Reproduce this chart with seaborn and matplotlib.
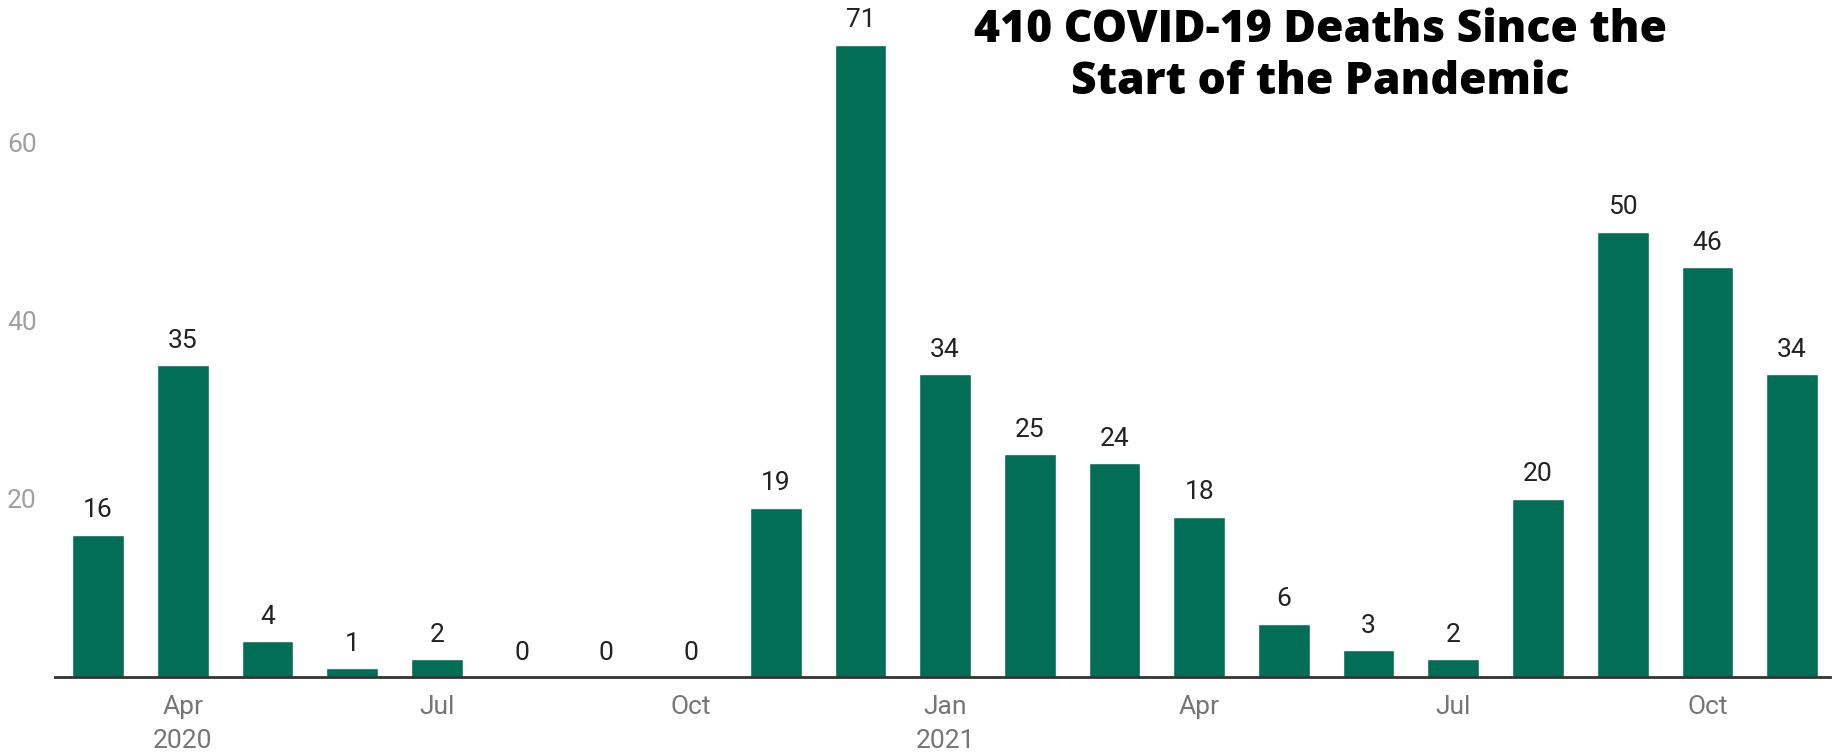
import pandas as pd
import matplotlib
matplotlib.use("Agg")
import matplotlib.pyplot as plt
import seaborn as sns

months = [
    "Mar 2020", "Apr 2020", "May 2020", "Jun 2020", "Jul 2020", "Aug 2020",
    "Sep 2020", "Oct 2020", "Nov 2020", "Dec 2020", "Jan 2021", "Feb 2021",
    "Mar 2021", "Apr 2021", "May 2021", "Jun 2021", "Jul 2021", "Aug 2021",
    "Sep 2021", "Oct 2021", "Nov 2021",
]
deaths = [16, 35, 4, 1, 2, 0, 0, 0, 19, 71, 34, 25, 24, 18, 6, 3, 2, 20, 50, 46, 34]

tick_months = ["Apr 2020", "Jul 2020", "Oct 2020", "Jan 2021", "Apr 2021", "Jul 2021", "Oct 2021"]
tick_labels = ["Apr\n2020", "Jul", "Oct", "Jan\n2021", "Apr", "Jul", "Oct"]
y_ticks = [20, 40, 60]

title = "410 COVID-19 Deaths Since the\nStart of the Pandemic"

BAR_COLOR = "#026e55"


def main():
    sns.set_style("white")
    plt.rcParams["font.family"] = ["Roboto", "DejaVu Sans"]

    df = pd.DataFrame({"month": months, "deaths": deaths})

    fig = plt.figure(figsize=(18.39, 7.54), dpi=100)
    ax = fig.add_axes([0.0299, 0.102, 0.9653, 0.898])

    sns.barplot(data=df, x="month", y="deaths", color=BAR_COLOR,
                saturation=1, width=0.61, ax=ax)

    ax.bar_label(ax.containers[0], labels=[str(v) for v in deaths],
                 padding=9, fontsize=19, color="#222222")

    ax.set_xlim(-0.51, len(months) - 0.55)
    ax.set_ylim(0, 76)

    ax.set_xticks([months.index(m) for m in tick_months])
    ax.set_xticklabels(tick_labels, fontsize=19, color="#757575", linespacing=1.5)
    ax.set_yticks(y_ticks)
    ax.set_yticklabels([str(t) for t in y_ticks], fontsize=19, color="#a0a0a0")
    ax.tick_params(axis="both", length=0)
    ax.tick_params(axis="x", pad=13)
    ax.tick_params(axis="y", pad=13)

    ax.set_xlabel("")
    ax.set_ylabel("")
    sns.despine(ax=ax, left=True)
    ax.spines["bottom"].set_color("#333333")
    ax.spines["bottom"].set_linewidth(2)
    ax.grid(False)

    fig.text(0.718, 0.925, title, ha="center", va="center",
             fontsize=32, fontweight="heavy", family=["Open Sans", "DejaVu Sans"],
             linespacing=1.2, color="#000000")

    fig.savefig("out.png", dpi=100)


if __name__ == "__main__":
    main()
